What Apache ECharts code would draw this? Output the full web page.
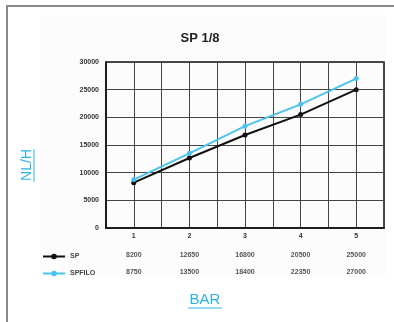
<!DOCTYPE html>
<html>
<head>
<meta charset="utf-8">
<script src="https://cdn.jsdelivr.net/npm/echarts@6/dist/echarts.min.js"></script>
<style>
  html, body { margin: 0; padding: 0; background: #fff; }
  #chart { width: 394px; height: 322px; }
</style>
</head>
<body>
<div id="chart"></div>
<script>
var categories = ['1', '2', '3', '4', '5'];
var spValues = [8200, 12650, 16800, 20500, 25000];
var spfiloValues = [8750, 13500, 18400, 22350, 27000];
var yTicks = [0, 5000, 10000, 15000, 20000, 25000, 30000];

var blue = '#2fb1e6';
var smallText = { fontSize: 7, fontWeight: 'bold', color: '#333', fontFamily: 'Liberation Sans' };

var chart = echarts.init(document.getElementById('chart'), null, { renderer: 'canvas' });

chart.setOption({
  animation: false,
  title: {
    text: 'SP 1/8',
    left: 195, top: 27, textAlign: 'center',
    textStyle: { fontSize: 13, fontWeight: 'bold', color: '#222', fontFamily: 'Liberation Sans' }
  },
  legend: {
    orient: 'vertical',
    left: 37, top: 248,
    itemWidth: 22, itemHeight: 7, itemGap: 10,
    textStyle: Object.assign({}, smallText, { color: '#444' }),
    data: ['SP', 'SPFILO']
  },
  grid: {
    left: 106, right: 10, top: 62, bottom: 94,
    show: true, borderColor: '#111', borderWidth: 1.5
  },
  xAxis: [
    {
      type: 'category', data: categories, boundaryGap: true,
      axisLine: { lineStyle: { color: '#111', width: 1.5 } },
      axisTick: { show: false },
      axisLabel: Object.assign({ margin: 5 }, smallText),
      splitLine: { show: false }
    },
    {
      type: 'category', data: spValues.map(String), position: 'bottom', offset: 20,
      axisLine: { show: false }, axisTick: { show: false },
      axisLabel: Object.assign({ margin: 4 }, smallText, { color: '#555' })
    },
    {
      type: 'category', data: spfiloValues.map(String), position: 'bottom', offset: 37,
      axisLine: { show: false }, axisTick: { show: false },
      axisLabel: Object.assign({ margin: 4 }, smallText, { color: '#555' })
    },
    {
      type: 'value', min: 0, max: 10, interval: 1, show: true,
      axisLine: { show: false }, axisTick: { show: false }, axisLabel: { show: false },
      splitLine: { show: true, lineStyle: { color: '#444', width: 1 } }
    }
  ],
  yAxis: {
    type: 'value', min: yTicks[0], max: yTicks[yTicks.length - 1], interval: 5000,
    axisLine: { show: true, lineStyle: { color: '#111', width: 1.5 } },
    axisTick: { show: false },
    axisLabel: Object.assign({ margin: 7, formatter: function (v) { return String(v); } }, smallText),
    splitLine: { lineStyle: { color: '#444', width: 1 } }
  },
  series: [
    {
      name: 'SP', type: 'line', data: spValues,
      symbol: 'circle', symbolSize: 5,
      lineStyle: { color: '#111', width: 2 },
      itemStyle: { color: '#111' }
    },
    {
      name: 'SPFILO', type: 'line', data: spfiloValues,
      symbol: 'circle', symbolSize: 5,
      lineStyle: { color: '#4cc3ec', width: 2 },
      itemStyle: { color: '#4cc3ec' }
    }
  ],
  graphic: [
    { type: 'rect', z: -10, shape: { x: 40, y: 15, width: 346, height: 262 }, style: { fill: '#fcfcfc' } },
    { type: 'line', shape: { x1: 7, y1: 5, x2: 7, y2: 322 }, style: { stroke: '#8a8a8a', lineWidth: 2 } },
    { type: 'line', shape: { x1: 6, y1: 6, x2: 394, y2: 6 }, style: { stroke: '#8a8a8a', lineWidth: 2 } },
    {
      type: 'text', x: 27, y: 165, rotation: Math.PI / 2,
      style: { text: 'NL/H', fill: blue, fontSize: 14, fontFamily: 'Liberation Sans', align: 'center', verticalAlign: 'middle' }
    },
    { type: 'line', shape: { x1: 34, y1: 149, x2: 34, y2: 182 }, style: { stroke: blue, lineWidth: 1 } },
    {
      type: 'text', x: 205, y: 300,
      style: { text: 'BAR', fill: blue, fontSize: 15, fontFamily: 'Liberation Sans', align: 'center', verticalAlign: 'middle' }
    },
    { type: 'line', shape: { x1: 188, y1: 308, x2: 222, y2: 308 }, style: { stroke: blue, lineWidth: 1 } }
  ]
});
</script>
</body>
</html>
